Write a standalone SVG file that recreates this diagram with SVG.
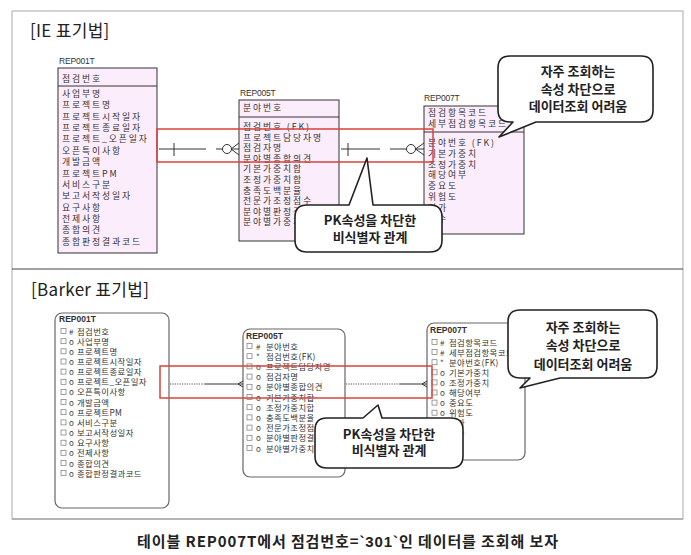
<svg xmlns="http://www.w3.org/2000/svg" width="691" height="555" viewBox="0 0 691 555">
<defs>
<style>
text{font-family:"Noto Sans CJK KR","Noto Sans",sans-serif;}
.h{font-size:17px;fill:#222;letter-spacing:0.3px;}
.lbl{font-family:"Liberation Sans",sans-serif;font-size:8.5px;fill:#333;letter-spacing:-0.2px;}
.lblb{font-family:"Liberation Sans",sans-serif;font-size:8.5px;font-weight:bold;fill:#333;}
.ie{font-size:8.8px;fill:#333;letter-spacing:1.9px;}
.bk{font-size:8.4px;fill:#333;letter-spacing:0.4px;}
.mk{font-size:8px;fill:#444;}
.co{font-size:13px;font-weight:bold;fill:#222;text-anchor:middle;}
.cap{font-size:15px;font-weight:bold;fill:#222;text-anchor:middle;letter-spacing:0.9px;}
.ent{fill:#fcedfc;stroke:#333;stroke-width:1;}
.bent{fill:#fff;stroke:#666;stroke-width:1.2;}
.call{fill:#fff;stroke:#222;stroke-width:1.6;stroke-linejoin:round;}
.red{fill:none;stroke:#d8433b;stroke-width:1.5;}
.ln{stroke:#333;stroke-width:1;fill:none;}
.dot{stroke:#555;stroke-width:1;stroke-dasharray:1.2 1.2;fill:none;}
</style>
<rect id="cb" width="5" height="5" fill="none" stroke="#777" stroke-width="0.7"/>
</defs>
<rect width="691" height="555" fill="#fff"/>
<g id="frame">
<rect x="12" y="11" width="671" height="508" fill="none" stroke="#aaa" stroke-width="1"/>
<line x1="12" y1="269" x2="683" y2="269" stroke="#444" stroke-width="1"/>
<line x1="12" y1="519" x2="683" y2="519" stroke="#aaa" stroke-width="1.5"/>
</g>
<text class="h" x="30" y="37">[IE 표기법]</text>
<text class="h" x="31" y="296">[Barker 표기법]</text>

<!-- IE entities -->
<g id="ie-rep001t">
<text class="lbl" x="59" y="64">REP001T</text>
<rect class="ent" x="58" y="68" width="99" height="185"/>
<line class="ln" x1="58" y1="86" x2="157" y2="86"/>
<text class="ie" x="62" y="82">점검번호</text>
<text class="ie" x="62" y="97">사업부명</text>
<text class="ie" x="62" y="108.4">프로젝트명</text>
<text class="ie" x="62" y="119.7">프로젝트시작일자</text>
<text class="ie" x="62" y="131.1">프로젝트종료일자</text>
<text class="ie" x="62" y="142.4">프로젝트_오픈일자</text>
<text class="ie" x="62" y="153.8">오픈특이사항</text>
<text class="ie" x="62" y="165.2">개발금액</text>
<text class="ie" x="62" y="176.5">프로젝트PM</text>
<text class="ie" x="62" y="187.9">서비스구분</text>
<text class="ie" x="62" y="199.2">보고서작성일자</text>
<text class="ie" x="62" y="210.6">요구사항</text>
<text class="ie" x="62" y="222">전제사항</text>
<text class="ie" x="62" y="233.3">종합의견</text>
<text class="ie" x="62" y="244.7">종합판정결과코드</text>
</g>
<g id="ie-rep005t">
<text class="lbl" x="240" y="96">REP005T</text>
<rect class="ent" x="239" y="100" width="100" height="141"/>
<line class="ln" x1="239" y1="117" x2="339" y2="117"/>
<text class="ie" x="243" y="111">분야번호</text>
<text class="ie" x="243" y="130">점검번호 (FK)</text>
<text class="ie" x="243" y="140.6">프로젝트담당자명</text>
<text class="ie" x="243" y="151.2">점검자명</text>
<text class="ie" x="243" y="161.8">분야별종합의견</text>
<text class="ie" x="243" y="172.4">기본가중치합</text>
<text class="ie" x="243" y="183">조정가중치합</text>
<text class="ie" x="243" y="193.6">충족도백분율</text>
<text class="ie" x="243" y="204.2">전문가조정점수</text>
<text class="ie" x="243" y="214.8">분야별판정결과</text>
<text class="ie" x="243" y="225.4">분야별가중치합</text>
</g>
<g id="ie-rep007t">
<text class="lbl" x="424" y="101">REP007T</text>
<rect class="ent" x="424" y="106" width="100" height="128"/>
<line class="ln" x1="424" y1="132" x2="524" y2="132"/>
<text class="ie" x="428" y="116">점검항목코드</text>
<text class="ie" x="428" y="126.5">세부점검항목코드</text>
<text class="ie" x="428" y="146">분야번호 (FK)</text>
<text class="ie" x="428" y="156.8">기본가중치</text>
<text class="ie" x="428" y="167.6">조정가중치</text>
<text class="ie" x="428" y="178.4">해당여부</text>
<text class="ie" x="428" y="189.2">중요도</text>
<text class="ie" x="428" y="200">위험도</text>
<text class="ie" x="428" y="210.8">평가</text>
<text class="ie" x="428" y="221.6">점수</text>
</g>

<!-- Barker entities -->
<g id="bk-rep001t">
<rect class="bent" x="55" y="313" width="114" height="195" rx="7"/>
<text class="lblb" x="59" y="322">REP001T</text>
<use href="#cb" x="61" y="328.5"/><text class="mk" x="69" y="334.5">#</text><text class="bk" x="77" y="334.5">점검번호</text>
<use href="#cb" x="61" y="338.7"/><text class="mk" x="69" y="344.7">o</text><text class="bk" x="77" y="344.7">사업부명</text>
<use href="#cb" x="61" y="348.8"/><text class="mk" x="69" y="354.8">o</text><text class="bk" x="77" y="354.8">프로젝트명</text>
<use href="#cb" x="61" y="359"/><text class="mk" x="69" y="365">o</text><text class="bk" x="77" y="365">프로젝트시작일자</text>
<use href="#cb" x="61" y="369.1"/><text class="mk" x="69" y="375.1">o</text><text class="bk" x="77" y="375.1">프로젝트종료일자</text>
<use href="#cb" x="61" y="379.3"/><text class="mk" x="69" y="385.3">o</text><text class="bk" x="77" y="385.3">프로젝트_오픈일자</text>
<use href="#cb" x="61" y="389.4"/><text class="mk" x="69" y="395.4">o</text><text class="bk" x="77" y="395.4">오픈특이사항</text>
<use href="#cb" x="61" y="399.6"/><text class="mk" x="69" y="405.6">o</text><text class="bk" x="77" y="405.6">개발금액</text>
<use href="#cb" x="61" y="409.7"/><text class="mk" x="69" y="415.7">o</text><text class="bk" x="77" y="415.7">프로젝트PM</text>
<use href="#cb" x="61" y="419.9"/><text class="mk" x="69" y="425.9">o</text><text class="bk" x="77" y="425.9">서비스구분</text>
<use href="#cb" x="61" y="430"/><text class="mk" x="69" y="436">o</text><text class="bk" x="77" y="436">보고서작성일자</text>
<use href="#cb" x="61" y="440.2"/><text class="mk" x="69" y="446.2">o</text><text class="bk" x="77" y="446.2">요구사항</text>
<use href="#cb" x="61" y="450.3"/><text class="mk" x="69" y="456.3">o</text><text class="bk" x="77" y="456.3">전제사항</text>
<use href="#cb" x="61" y="460.5"/><text class="mk" x="69" y="466.5">o</text><text class="bk" x="77" y="466.5">종합의견</text>
<use href="#cb" x="61" y="470.6"/><text class="mk" x="69" y="476.6">o</text><text class="bk" x="77" y="476.6">종합판정결과코드</text>
</g>
<g id="bk-rep005t">
<rect class="bent" x="243" y="329" width="102" height="148" rx="7"/>
<text class="lblb" x="246" y="339">REP005T</text>
<use href="#cb" x="247" y="343.5"/><text class="mk" x="256" y="349.5">#</text><text class="bk" x="266" y="349.5">분야번호</text>
<use href="#cb" x="247" y="353.7"/><text class="mk" x="256" y="359.7">*</text><text class="bk" x="266" y="359.7">점검번호(FK)</text>
<use href="#cb" x="247" y="363.9"/><text class="mk" x="256" y="369.9">o</text><text class="bk" x="266" y="369.9">프로젝트담당자명</text>
<use href="#cb" x="247" y="374.1"/><text class="mk" x="256" y="380.1">o</text><text class="bk" x="266" y="380.1">점검자명</text>
<use href="#cb" x="247" y="384.3"/><text class="mk" x="256" y="390.3">o</text><text class="bk" x="266" y="390.3">분야별종합의견</text>
<use href="#cb" x="247" y="394.5"/><text class="mk" x="256" y="400.5">o</text><text class="bk" x="266" y="400.5">기본가중치합</text>
<use href="#cb" x="247" y="404.7"/><text class="mk" x="256" y="410.7">o</text><text class="bk" x="266" y="410.7">조정가중치합</text>
<use href="#cb" x="247" y="414.9"/><text class="mk" x="256" y="420.9">o</text><text class="bk" x="266" y="420.9">충족도백분율</text>
<use href="#cb" x="247" y="425.1"/><text class="mk" x="256" y="431.1">o</text><text class="bk" x="266" y="431.1">전문가조정점수</text>
<use href="#cb" x="247" y="435.3"/><text class="mk" x="256" y="441.3">o</text><text class="bk" x="266" y="441.3">분야별판정결과</text>
<use href="#cb" x="247" y="445.5"/><text class="mk" x="256" y="451.5">o</text><text class="bk" x="266" y="451.5">분야별가중치합</text>
</g>
<g id="bk-rep007t">
<rect class="bent" x="427" y="323" width="98" height="137" rx="7"/>
<text class="lblb" x="430" y="333">REP007T</text>
<use href="#cb" x="432" y="339.5"/><text class="mk" x="440" y="345.5">#</text><text class="bk" x="449" y="345.5">점검항목코드</text>
<use href="#cb" x="432" y="349.6"/><text class="mk" x="440" y="355.6">#</text><text class="bk" x="449" y="355.6">세부점검항목코드</text>
<use href="#cb" x="432" y="359.7"/><text class="mk" x="440" y="365.7">*</text><text class="bk" x="449" y="365.7">분야번호(FK)</text>
<use href="#cb" x="432" y="369.8"/><text class="mk" x="440" y="375.8">o</text><text class="bk" x="449" y="375.8">기본가중치</text>
<use href="#cb" x="432" y="379.9"/><text class="mk" x="440" y="385.9">o</text><text class="bk" x="449" y="385.9">조정가중치</text>
<use href="#cb" x="432" y="390"/><text class="mk" x="440" y="396">o</text><text class="bk" x="449" y="396">해당여부</text>
<use href="#cb" x="432" y="400.1"/><text class="mk" x="440" y="406.1">o</text><text class="bk" x="449" y="406.1">중요도</text>
<use href="#cb" x="432" y="410.2"/><text class="mk" x="440" y="416.2">o</text><text class="bk" x="449" y="416.2">위험도</text>
<use href="#cb" x="432" y="420.3"/><text class="mk" x="440" y="426.3">o</text><text class="bk" x="449" y="426.3">평가</text>
<use href="#cb" x="432" y="430.4"/><text class="mk" x="440" y="436.4">o</text><text class="bk" x="449" y="436.4">점수</text>
</g>

<!-- connectors -->
<g id="connectors">
<line class="ln" x1="159" y1="149" x2="206" y2="149"/>
<line class="ln" x1="174" y1="143" x2="174" y2="156"/>
<line class="ln" x1="216" y1="149" x2="222.5" y2="149"/>
<circle class="ln" cx="227" cy="149" r="4.5"/>
<path class="ln" d="M231,149 L239,143 M231,149 L239,149 M231,149 L239,155"/>
<line class="ln" x1="341" y1="149" x2="380" y2="149"/>
<line class="ln" x1="348" y1="143" x2="348" y2="156"/>
<line class="ln" x1="390" y1="149" x2="406.5" y2="149"/>
<circle class="ln" cx="411" cy="149" r="4.5"/>
<path class="ln" d="M415.5,149 L424,143 M415.5,149 L424,149 M415.5,149 L424,155"/>
<line class="dot" x1="170" y1="384" x2="205" y2="384"/>
<line class="ln" x1="205" y1="384" x2="243" y2="384"/>
<path class="ln" d="M238,384 L243,381 M238,384 L243,387"/>
<line class="dot" x1="346" y1="384" x2="400" y2="384"/>
<line class="ln" x1="400" y1="384" x2="427" y2="384"/>
<path class="ln" d="M422,384 L427,381 M422,384 L427,387"/>
</g>

<!-- highlights -->
<rect class="red" x="157" y="129" width="276" height="33"/>
<rect class="red" x="160" y="366" width="272" height="32"/>

<!-- callouts -->
<g id="callout-ie-pk">
<path class="call" d="M307,205 H349 L367,158 L373,205 H430 Q442,205 442,217 V240 Q442,252 430,252 H307 Q295,252 295,240 V217 Q295,205 307,205 Z"/>
<text class="co" x="370" y="225">PK속성을 차단한</text>
<text class="co" x="370" y="242">비식별자 관계</text>
</g>
<g id="callout-ie-freq">
<path class="call" d="M510,56 H641 Q653,56 653,68 V110 Q653,122 641,122 H536 L499,137 L513,122 H510 Q498,122 498,110 V68 Q498,56 510,56 Z"/>
<text class="co" x="578" y="76">자주 조회하는</text>
<text class="co" x="578" y="93.5">속성 차단으로</text>
<text class="co" x="578" y="111">데이터조회 어려움</text>
</g>
<g id="callout-bk-pk">
<path class="call" d="M327,418 H363 L378,405 L382,418 H451 Q463,418 463,430 V456 Q463,468 451,468 H327 Q315,468 315,456 V430 Q315,418 327,418 Z"/>
<text class="co" x="389" y="439">PK속성을 차단한</text>
<text class="co" x="389" y="455">비식별자 관계</text>
</g>
<g id="callout-bk-freq">
<path class="call" d="M520,310 H645 Q657,310 657,322 V366 Q657,378 645,378 H560 L520,388 L530,378 H520 Q508,378 508,366 V322 Q508,310 520,310 Z"/>
<text class="co" x="583" y="331.5">자주 조회하는</text>
<text class="co" x="583" y="350">속성 차단으로</text>
<text class="co" x="583" y="369">데이터조회 어려움</text>
</g>

<text class="cap" x="348" y="547">테이블 REP007T에서 점검번호=<tspan font-family="Liberation Sans">`301`</tspan>인 데이터를 조회해 보자</text>
</svg>
